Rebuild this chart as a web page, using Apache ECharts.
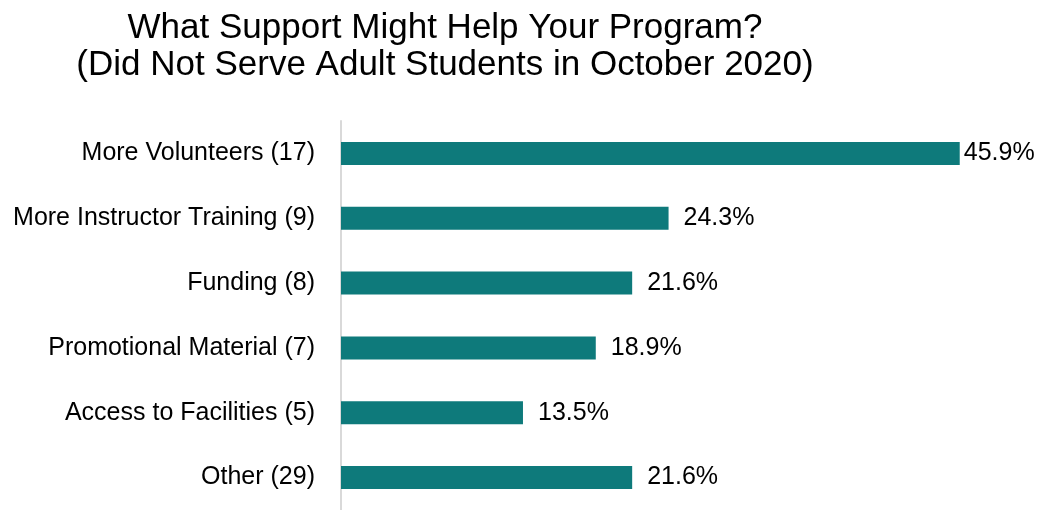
<!DOCTYPE html>
<html><head><meta charset="utf-8">
<script src="https://cdn.jsdelivr.net/npm/echarts@6/dist/echarts.min.js"></script>
<style>html,body{margin:0;padding:0;background:#fff}#c{width:1043px;height:510px}</style>
</head><body><div id="c"></div>
<script>
const categories = ["More Volunteers (17)","More Instructor Training (9)","Funding (8)","Promotional Material (7)","Access to Facilities (5)","Other (29)"];
const values = [45.9, 24.3, 21.6, 18.9, 13.5, 21.6];
const titleLines = ["What Support Might Help Your Program?","(Did Not Serve Adult Students in October 2020)"];

const chart = echarts.init(document.getElementById('c'));
chart.setOption({
  animation:false,
  title:{text:titleLines.join('\n'),left:440,top:5,textAlign:'center',
    textStyle:{fontFamily:'Liberation Sans',fontWeight:'normal',fontSize:35,lineHeight:37,color:'#000'}},
  grid:{left:341,top:121,width:674,height:398,containLabel:false},
  xAxis:{type:'value',min:0,max:50,show:false},
  yAxis:{type:'category',data:categories,inverse:true,
    axisLine:{show:true,lineStyle:{color:'#d9d9d9',width:2}},
    axisTick:{show:false},
    axisLabel:{margin:26,fontFamily:'Liberation Sans',fontSize:25,color:'#000',padding:[5,0,0,0]}},
  series:[{type:'bar',barWidth:23,
    data:values.map((v,i)=>({value:v,label:{distance:i===0?4:15}})),
    itemStyle:{color:'#0e7a7b'},
    label:{show:true,position:'right',formatter:p=>p.value.toFixed(1)+'%',
      fontFamily:'Liberation Sans',fontSize:25,color:'#000',padding:[4,0,0,0]}}]
});
</script></body></html>
